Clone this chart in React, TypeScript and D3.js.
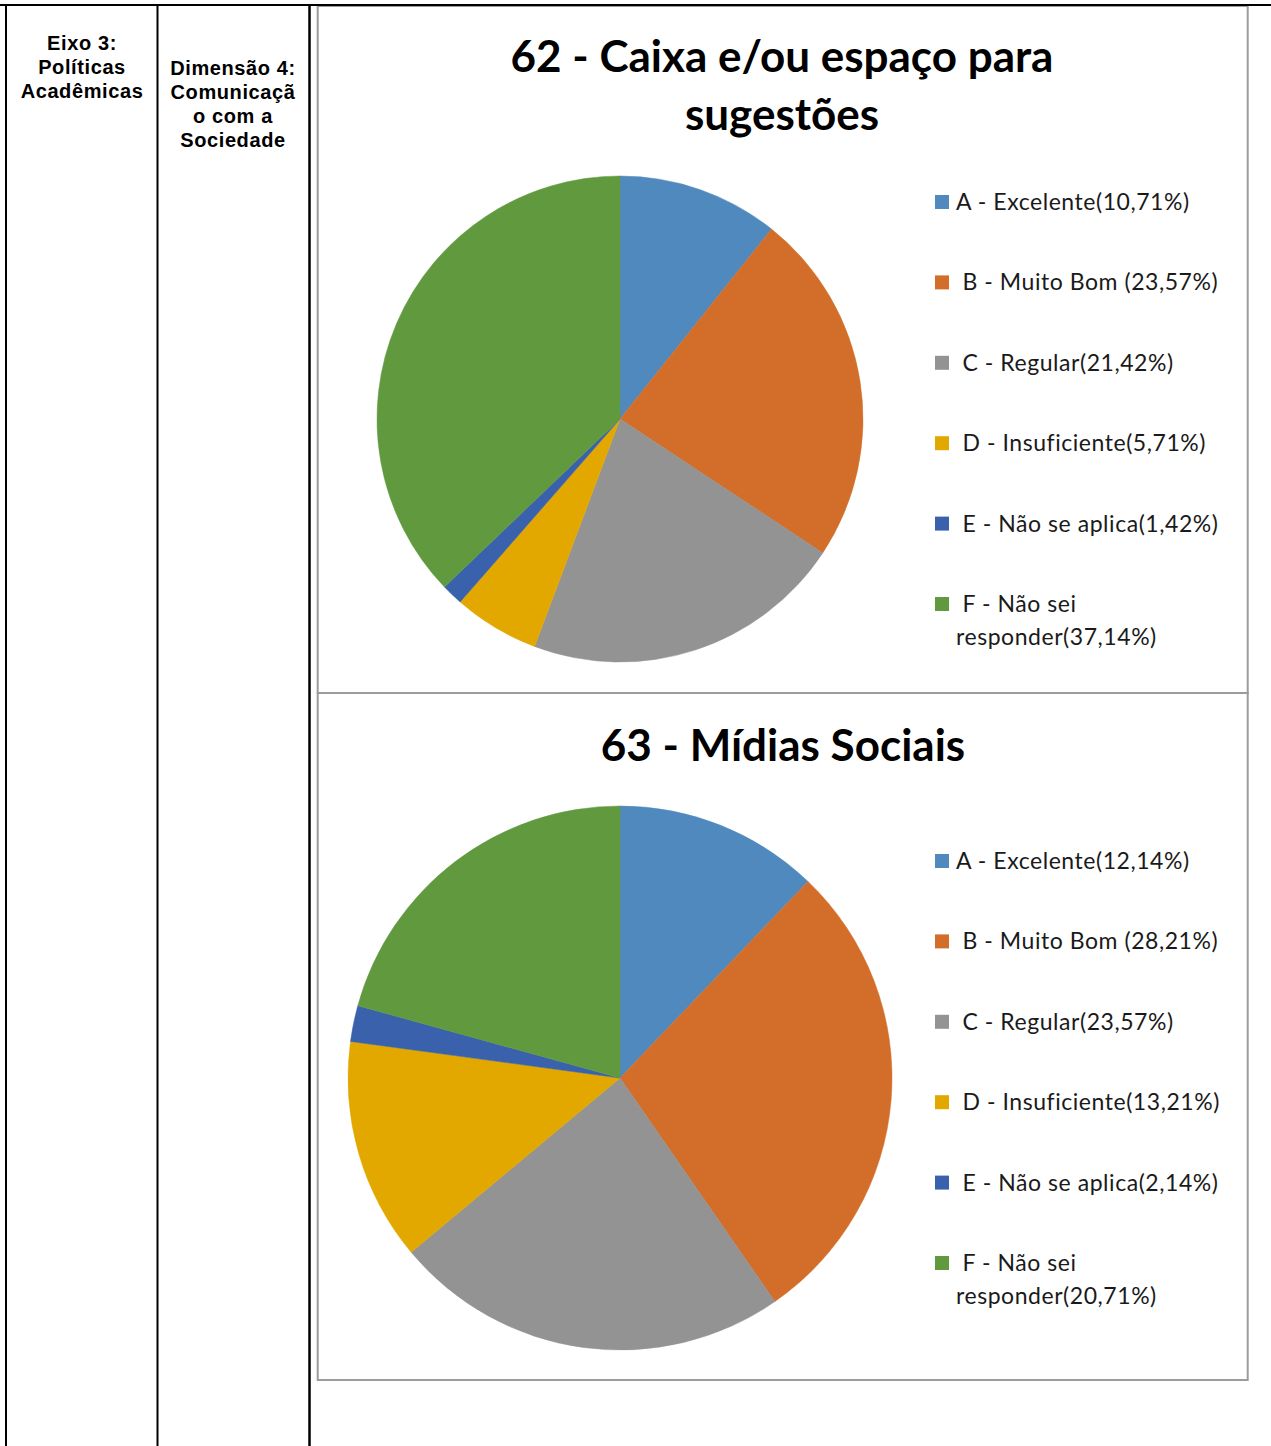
import React from "react";
import * as d3 from "d3";

const colors = ["#4F89BD", "#D26E2A", "#939393", "#E2A800", "#3A62AC", "#619A3E"];

const categories = ["A", "B", "C", "D", "E", "F"];

const chart1Title = ["62 - Caixa e/ou espaço para", "sugestões"];
const chart1Values = [10.71, 23.57, 21.42, 5.71, 1.42, 37.14];
const chart1Legend = [
  ["A - Excelente(10,71%)"],
  [" B - Muito Bom (23,57%)"],
  [" C - Regular(21,42%)"],
  [" D - Insuficiente(5,71%)"],
  [" E - Não se aplica(1,42%)"],
  [" F - Não sei", "responder(37,14%)"],
];

const chart2Title = ["63 - Mídias Sociais"];
const chart2Values = [12.14, 28.21, 23.57, 13.21, 2.14, 20.71];
const chart2Legend = [
  ["A - Excelente(12,14%)"],
  [" B - Muito Bom (28,21%)"],
  [" C - Regular(23,57%)"],
  [" D - Insuficiente(13,21%)"],
  [" E - Não se aplica(2,14%)"],
  [" F - Não sei", "responder(20,71%)"],
];

const col1Lines = ["Eixo 3:", "Políticas", "Acadêmicas"];
const col2Lines = ["Dimensão 4:", "Comunicaçã", "o com a", "Sociedade"];

const W = 1271;
const H = 1446;
const FONT = "Lato, 'Open Sans', sans-serif";
const TABLE_FONT = "'Liberation Sans', Arial, sans-serif";

function PieChart({ values, cx, cy, r }: { values: number[]; cx: number; cy: number; r: number }) {
  const pie = d3.pie<number>().sort(null).value((d) => d);
  const arc = d3.arc<d3.PieArcDatum<number>>().innerRadius(0).outerRadius(r);
  const arcs = pie(values);
  return (
    <g transform={`translate(${cx},${cy})`}>
      {arcs.map((a, i) => (
        <path key={categories[i]} d={arc(a) || ""} fill={colors[i]} stroke={colors[i]} strokeWidth={0.5} />
      ))}
    </g>
  );
}

function Legend({ items, x, y0, step }: { items: string[][]; x: number; y0: number; step: number }) {
  const yScale = d3.scaleLinear().domain([0, 1]).range([y0, y0 + step]);
  return (
    <g>
      {items.map((lines, i) => {
        const cy = yScale(i);
        return (
          <g key={categories[i]}>
            <rect x={x} y={cy - 7} width={14} height={14} fill={colors[i]} />
            {lines.map((t, j) => (
              <text
                key={j}
                x={x + 21}
                y={cy + 8 + j * 33}
                fontFamily={FONT}
                fontSize={23}
                letterSpacing={0.55}
                fill="#1a1a1a"
                style={{ whiteSpace: "pre" }}
              >
                {t}
              </text>
            ))}
          </g>
        );
      })}
    </g>
  );
}

export default function App() {
  return (
    <svg
      width={W}
      height={H}
      style={{ position: "absolute", left: 0, top: 0, background: "#fff" }}
    >
      <rect x={0} y={0} width={W} height={H} fill="#fff" />
      {/* chart frames */}
      <rect x={317.7} y={6} width={930} height={687} fill="#fff" stroke="#9c9c9c" strokeWidth={2} />
      <rect x={317.7} y={693} width={930} height={687} fill="#fff" stroke="#9c9c9c" strokeWidth={2} />

      {/* table lines */}
      <line x1={0} x2={W} y1={5} y2={5} stroke="#000" strokeWidth={2} />
      <line x1={6} x2={6} y1={4} y2={H} stroke="#000" strokeWidth={2} />
      <line x1={157.5} x2={157.5} y1={4} y2={H} stroke="#000" strokeWidth={2} />
      <line x1={309.5} x2={309.5} y1={4} y2={H} stroke="#000" strokeWidth={2.5} />

      {/* table labels */}
      {col1Lines.map((t, i) => (
        <text key={t} x={82} y={50 + i * 24} textAnchor="middle" fontFamily={TABLE_FONT} fontWeight="bold" fontSize={20} letterSpacing={0.6} fill="#000">
          {t}
        </text>
      ))}
      {col2Lines.map((t, i) => (
        <text key={t} x={233} y={75 + i * 24} textAnchor="middle" fontFamily={TABLE_FONT} fontWeight="bold" fontSize={20} letterSpacing={0.6} fill="#000">
          {t}
        </text>
      ))}

      {/* chart 1 */}
      {chart1Title.map((t, i) => (
        <text key={t} x={782} y={72 + i * 58} textAnchor="middle" fontFamily={FONT} fontWeight="bold" fontSize={44} fill="#000">
          {t}
        </text>
      ))}
      <PieChart values={chart1Values} cx={620} cy={419} r={243} />
      <Legend items={chart1Legend} x={935} y0={202} step={80.4} />

      {/* chart 2 */}
      {chart2Title.map((t) => (
        <text key={t} x={783} y={761} textAnchor="middle" fontFamily={FONT} fontWeight="bold" fontSize={44} fill="#000">
          {t}
        </text>
      ))}
      <PieChart values={chart2Values} cx={620} cy={1078} r={272} />
      <Legend items={chart2Legend} x={935} y0={861} step={80.4} />
    </svg>
  );
}
